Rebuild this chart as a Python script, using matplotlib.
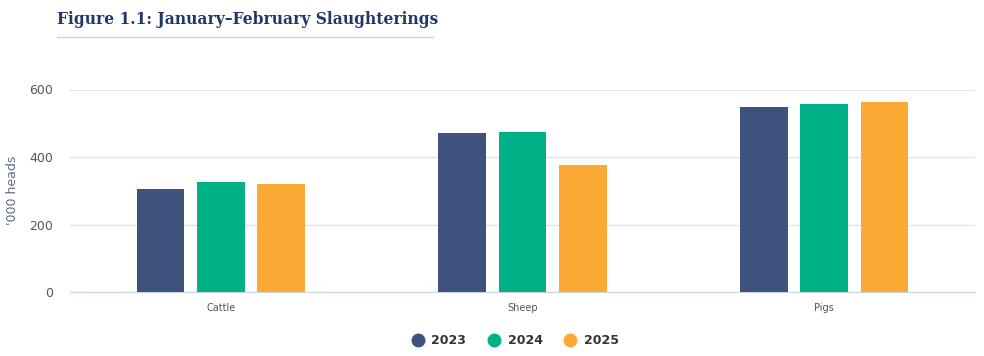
import matplotlib.pyplot as plt
import numpy as np
from matplotlib.lines import Line2D

categories = ["Cattle", "Sheep", "Pigs"]
years = ["2023", "2024", "2025"]
values_2023 = [305, 471, 548]
values_2024 = [326, 474, 557]
values_2025 = [320, 376, 563]
colors = ["#3f527d", "#00b086", "#fbaa35"]

fig = plt.figure(figsize=(9.84, 3.56), dpi=100)
ax = fig.add_axes([70 / 984, 64 / 356, 905 / 984, 202.5 / 356])

x = np.arange(len(categories))
w = 0.159
for i, (vals, c) in enumerate(zip([values_2023, values_2024, values_2025], colors)):
    ax.bar(x + (i - 1) * 0.2, vals, width=w, color=c, zorder=3)

ax.set_xlim(-0.5, 2.5)
ax.set_ylim(0, 600)
ax.set_yticks([0, 200, 400, 600])
ax.grid(axis="y", color="#e3e3e3", linewidth=1, zorder=0)
for s in ["top", "right", "left"]:
    ax.spines[s].set_visible(False)
ax.spines["bottom"].set_color("#c9d4e6")
ax.tick_params(axis="y", length=0, labelsize=9, labelcolor="#555555", pad=12)
ax.tick_params(axis="x", length=0, labelsize=7, labelcolor="#555555", pad=8)
ax.set_xticks(x)
ax.set_xticklabels(categories)
ax.set_ylabel("'000 heads", fontsize=9, color="#5d6b7a")
ax.yaxis.set_label_coords(-51 / 905, 0.5)

fig.text(57 / 984, 1 - 20 / 356, "Figure 1.1: January\u2013February Slaughterings",
         fontsize=11.2, fontweight="bold", family="DejaVu Serif", color="#1f3864",
         va="center", ha="left")
fig.add_artist(Line2D([57 / 984, 433 / 984], [1 - 36.5 / 356, 1 - 36.5 / 356],
                      color="#c5d6e6", linewidth=1))

handles = [Line2D([], [], marker="o", linestyle="", markersize=9,
                  markerfacecolor=c, markeredgecolor=c) for c in colors]
fig.legend(handles, years, loc="center", bbox_to_anchor=(512 / 984, 1 - 341 / 356),
           ncol=3, frameon=False, handletextpad=0.1, columnspacing=1.2,
           prop={"weight": "bold", "size": 9})
for t in fig.legends[0].get_texts():
    t.set_color("#333333")

fig.savefig("out.png", dpi=100)
